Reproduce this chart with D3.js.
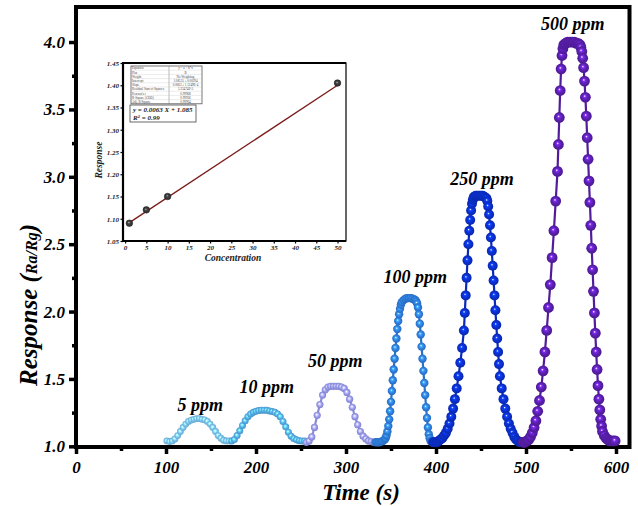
<!DOCTYPE html>
<html>
<head>
<meta charset="utf-8">
<script src="https://cdn.jsdelivr.net/npm/d3@7"></script>
<style>
  body { margin: 0; background: #fff; }
  svg { display: block; }
  text { font-family: "Liberation Serif", "DejaVu Serif", serif; font-weight: bold; font-style: italic; }
</style>
</head>
<body>
<svg id="chart" width="638" height="506"></svg>
<script>
// ---- Sensor response transients (time in s, response Ra/Rg) ----
const t5  = [101,104,107,110,113,116,119,122,125,128,131,134,137,140,143,146,149,152,155,158,161,164,167,170];
const v5  = [1.04,1.035,1.04,1.055,1.08,1.11,1.14,1.165,1.185,1.195,1.2,1.205,1.205,1.2,1.197,1.185,1.165,1.14,1.11,1.08,1.06,1.045,1.04,1.04];

const t10 = [173,176,179,182,185,188,191,194,197,200,203,206,209,212,215,218,221,224,227,230,233,236,239,242,245,248,251,254];
const v10 = [1.04,1.05,1.08,1.115,1.155,1.19,1.22,1.24,1.252,1.26,1.265,1.268,1.268,1.267,1.263,1.258,1.252,1.24,1.22,1.185,1.145,1.105,1.075,1.058,1.048,1.042,1.04,1.04];

const t50 = [256,259,262,265,268,271,274,277,280,283,286,289,292,295,298,301,304,307,310,313,316,319,322,325,328,331];
const v50 = [1.03,1.04,1.07,1.14,1.23,1.31,1.38,1.42,1.44,1.445,1.445,1.445,1.445,1.44,1.43,1.4,1.35,1.29,1.22,1.16,1.11,1.075,1.055,1.04,1.035,1.03];

const t100 = [333,335,337,339,341,343,344,345,346,347,348,349,350,351,352,353,354,355,356,357,358,359,360,361,362,364,366,368,370,372,374,376,377,378,379,380,381,382,383,384,385,386,387,388,389,390,391,392,393,394,395,396];
const v100 = [1.03,1.03,1.03,1.035,1.04,1.05,1.06,1.08,1.11,1.15,1.2,1.26,1.33,1.41,1.49,1.57,1.65,1.73,1.8,1.87,1.93,1.98,2.02,2.05,2.07,2.085,2.095,2.1,2.1,2.1,2.095,2.09,2.085,2.075,2.06,2.03,1.98,1.91,1.83,1.74,1.65,1.56,1.47,1.38,1.29,1.21,1.14,1.09,1.06,1.04,1.035,1.03];

const t250 = [397,399,401,403,405,407,409,411,413,415,417,419,421,423,425,427,429,431,432,433,434,435,436,437,438,439,440,441,442,444,446,448,450,452,454,456,457,458,459,460,461,462,463,464,465,466,467,468,469,470,471,473,475,477,479,481,483,485,487,489,491,493,495];
const v250 = [1.03,1.03,1.03,1.04,1.05,1.06,1.08,1.1,1.13,1.17,1.22,1.28,1.35,1.43,1.52,1.62,1.73,1.86,1.99,2.12,2.25,2.38,2.5,2.6,2.68,2.75,2.8,2.83,2.85,2.86,2.86,2.86,2.86,2.86,2.85,2.84,2.82,2.78,2.72,2.64,2.55,2.45,2.34,2.23,2.12,2.01,1.9,1.8,1.7,1.61,1.52,1.43,1.35,1.28,1.22,1.17,1.13,1.1,1.07,1.05,1.04,1.03,1.03];

const t500 = [497,499,501,503,505,507,509,511,513,515,517,519,521,523,525,527,529,531,533,535,536,537,538,539,540,541,542,544,546,548,550,552,554,556,558,560,561,562,563,564,565,566,567,568,569,570,571,572,573,574,575,576,577,578,579,580,581,582,583,584,585,587,589,591,593,595,597,599];
const v500 = [1.03,1.03,1.04,1.05,1.07,1.1,1.14,1.19,1.26,1.34,1.44,1.56,1.7,1.86,2.03,2.2,2.4,2.6,2.82,3.04,3.24,3.44,3.64,3.8,3.9,3.95,3.98,3.99,4.0,4.0,4.0,4.0,4.0,3.99,3.99,3.98,3.96,3.93,3.88,3.81,3.71,3.59,3.45,3.29,3.13,2.97,2.81,2.64,2.47,2.31,2.15,1.99,1.84,1.7,1.57,1.45,1.35,1.27,1.2,1.15,1.11,1.08,1.06,1.05,1.04,1.04,1.04,1.04];

const seriesNames  = ["5 ppm", "10 ppm", "50 ppm", "100 ppm", "250 ppm", "500 ppm"];
const seriesTimes  = [t5, t10, t50, t100, t250, t500];
const seriesValues = [v5, v10, v50, v100, v250, v500];
const seriesColors = ["#7cc6f2", "#56b0ea", "#9b9cf0", "#2f7fe0", "#0b2fce", "#5a1fae"];
const seriesRadius = [3.4, 3.5, 3.6, 4.2, 5.0, 5.4];

// label anchors (time, response)
const labelT = [138, 212, 288, 377, 451, 552];
const labelV = [1.262, 1.396, 1.588, 2.212, 2.939, 4.088];

const xTicks = [0, 100, 200, 300, 400, 500, 600];
const xMinor = [50, 150, 250, 350, 450, 550];
const yTicks = [1.0, 1.5, 2.0, 2.5, 3.0, 3.5, 4.0];
const yMinor = [1.25, 1.75, 2.25, 2.75, 3.25, 3.75];

// ---- Linear calibration (inset) ----
const concentration = [1, 5, 10, 50];
const calResponse   = [1.09, 1.12, 1.15, 1.405];
const fitSlope = 0.0063, fitIntercept = 1.085;
const insetXTicks = [0, 5, 10, 15, 20, 25, 30, 35, 40, 45, 50];
const insetYTicks = [1.05, 1.10, 1.15, 1.20, 1.25, 1.30, 1.35, 1.40, 1.45];
const fitTableKeys = ["Equation", "Plot", "Weight", "Intercept", "Slope", "Residual Sum of Squares", "Pearson's r", "R-Square (COD)", "Adj. R-Square"];
const fitTableVals = ["y = a + b*x", "B", "No Weighting", "1.08535 \u00b1 0.00294", "0.0063 \u00b1 1.1249E-4", "5.23474E-5", "0.99968", "0.99936", "0.99904"];

const svg = d3.select("#chart");
const defs = svg.append("defs");

const x = d3.scaleLinear().domain([0, 615]).range([76, 629.5]);
const y = d3.scaleLinear().domain([0.995, 4.26]).range([447, 7]);

// sphere shading for each series
function sphereGradient(id, color) {
  const c = d3.color(color);
  const g = defs.append("radialGradient").attr("id", id)
    .attr("cx", "50%").attr("cy", "50%").attr("r", "55%")
    .attr("fx", "42%").attr("fy", "38%");
  g.append("stop").attr("offset", "0%").attr("stop-color", "#ffffff");
  g.append("stop").attr("offset", "22%").attr("stop-color", c.brighter(0.9).formatHex());
  g.append("stop").attr("offset", "55%").attr("stop-color", color);
  g.append("stop").attr("offset", "100%").attr("stop-color", c.darker(0.6).formatHex());
}
seriesColors.forEach((c, i) => sphereGradient("sph" + i, c));
sphereGradient("sphInset", "#3a3a3a");

// ---- axes ----
const axisFont = "17px";
svg.append("g").attr("transform", `translate(0,${y.range()[0]})`)
  .call(d3.axisBottom(x).tickValues(xTicks).tickSize(7).tickPadding(7).tickFormat(d3.format("d")));
svg.append("g").attr("transform", `translate(0,${y.range()[0]})`)
  .call(d3.axisBottom(x).tickValues(xMinor).tickSize(4).tickFormat(""));
svg.append("g").attr("transform", `translate(${x.range()[0]},0)`)
  .call(d3.axisLeft(y).tickValues(yTicks).tickSize(7).tickPadding(4).tickFormat(d3.format(".1f")));
svg.append("g").attr("transform", `translate(${x.range()[0]},0)`)
  .call(d3.axisLeft(y).tickValues(yMinor).tickSize(4).tickFormat(""));
svg.selectAll(".domain").remove();
svg.selectAll(".tick line").attr("stroke", "#000").attr("stroke-width", 3.5);
svg.selectAll(".tick text").attr("fill", "#000").style("font-size", axisFont)
  .style("font-family", "'Liberation Serif', serif").style("font-weight", "bold").style("font-style", "italic");

// frame
svg.append("rect")
  .attr("x", x.range()[0]).attr("y", y.range()[1])
  .attr("width", x.range()[1] - x.range()[0]).attr("height", y.range()[0] - y.range()[1])
  .attr("fill", "none").attr("stroke", "#000").attr("stroke-width", 4);

// axis titles
svg.append("text").attr("x", 361).attr("y", 500).attr("text-anchor", "middle")
  .style("font-size", "23px").text("Time (s)");
const yt = svg.append("text").attr("transform", "translate(37,305) rotate(-90)")
  .attr("text-anchor", "middle").style("font-size", "25px");
yt.append("tspan").text("Response (");
yt.append("tspan").style("font-size", "16px").text("Ra/Rg");
yt.append("tspan").text(")");

// ---- transients ----
const line = d3.line().x(d => x(d[0])).y(d => y(d[1]));
seriesNames.forEach((name, i) => {
  const pts = seriesTimes[i].map((t, k) => [t, seriesValues[i][k]]);
  const g = svg.append("g");
  g.append("path").datum(pts).attr("d", line)
    .attr("fill", "none").attr("stroke", d3.color(seriesColors[i]).darker(0.3)).attr("stroke-width", 2.2);
  g.selectAll("circle").data(pts).join("circle")
    .attr("cx", d => x(d[0])).attr("cy", d => y(d[1])).attr("r", seriesRadius[i])
    .attr("fill", `url(#sph${i})`);
  svg.append("text").attr("x", x(labelT[i])).attr("y", y(labelV[i]))
    .attr("text-anchor", "middle").style("font-size", "18px").text(name);
});

// ---- inset: calibration curve ----
const ix = d3.scaleLinear().domain([-0.5, 52]).range([123, 346]);
const iy = d3.scaleLinear().domain([1.05, 1.45]).range([241, 63]);
const inset = svg.append("g");
inset.append("rect").attr("x", 123).attr("y", 63).attr("width", 223).attr("height", 178)
  .attr("fill", "#fff").attr("stroke", "#000").attr("stroke-width", 1.2);
inset.append("line").attr("x1", 123).attr("x2", 123).attr("y1", 62).attr("y2", 242).attr("stroke", "#000").attr("stroke-width", 2.2);
inset.append("line").attr("x1", 122).attr("x2", 346).attr("y1", 241).attr("y2", 241).attr("stroke", "#000").attr("stroke-width", 2.2);
inset.append("line").attr("x1", 122).attr("x2", 346).attr("y1", 63).attr("y2", 63).attr("stroke", "#000").attr("stroke-width", 1.8);

inset.append("g").attr("transform", "translate(0,241)")
  .call(d3.axisBottom(ix).tickValues(insetXTicks).tickSize(2.5).tickPadding(2).tickFormat(d3.format("d")));
inset.append("g").attr("transform", "translate(123,0)")
  .call(d3.axisLeft(iy).tickValues(insetYTicks).tickSize(2.5).tickPadding(1.5).tickFormat(d3.format(".2f")));
inset.selectAll(".domain").remove();
inset.selectAll(".tick line").attr("stroke", "#000").attr("stroke-width", 1.2);
inset.selectAll(".tick text").attr("fill", "#222").style("font-size", "7px")
  .style("font-family", "'Liberation Serif', serif").style("font-weight", "bold").style("font-style", "italic");

inset.append("text").attr("x", 233).attr("y", 261).attr("text-anchor", "middle")
  .style("font-size", "9.5px").attr("fill", "#222").text("Concentration");
inset.append("text").attr("transform", "translate(102,160) rotate(-90)").attr("text-anchor", "middle")
  .style("font-size", "9.5px").attr("fill", "#222").text("Response");

// fit line
inset.append("line")
  .attr("x1", ix(1)).attr("y1", iy(fitIntercept + fitSlope * 1))
  .attr("x2", ix(50)).attr("y2", iy(fitIntercept + fitSlope * 50))
  .attr("stroke", "#7a1a1a").attr("stroke-width", 1.3);
inset.selectAll("circle.cal").data(concentration).join("circle").attr("class", "cal")
  .attr("cx", (d) => ix(d)).attr("cy", (d, i) => iy(calResponse[i])).attr("r", 3.3)
  .attr("fill", "url(#sphInset)").attr("stroke", "#111").attr("stroke-width", 0.5);

// fit statistics table
const tb = inset.append("g");
const rowH = 4.2, tx0 = 131, ty0 = 66, colX = 169, tw = 71;
tb.append("rect").attr("x", tx0).attr("y", ty0).attr("width", tw).attr("height", rowH * fitTableKeys.length)
  .attr("fill", "#fff").attr("stroke", "#555").attr("stroke-width", 0.8);
tb.append("line").attr("x1", colX).attr("x2", colX).attr("y1", ty0).attr("y2", ty0 + rowH * fitTableKeys.length)
  .attr("stroke", "#777").attr("stroke-width", 0.5);
fitTableKeys.forEach((k, i) => {
  if (i > 0) tb.append("line").attr("x1", tx0).attr("x2", tx0 + tw).attr("y1", ty0 + rowH * i).attr("y2", ty0 + rowH * i)
    .attr("stroke", "#bbb").attr("stroke-width", 0.3);
  tb.append("text").attr("x", tx0 + 1).attr("y", ty0 + rowH * i + 3.3).style("font-size", "3.2px")
    .style("font-style", "normal").style("font-weight", "normal").attr("fill", "#444").text(k);
  tb.append("text").attr("x", colX + 16.5).attr("y", ty0 + rowH * i + 3.3).attr("text-anchor", "middle")
    .style("font-size", "3.2px").style("font-style", "normal").style("font-weight", "normal").attr("fill", "#444").text(fitTableVals[i]);
});
// fit equation box
tb.append("rect").attr("x", 130).attr("y", 105).attr("width", 66).attr("height", 17)
  .attr("fill", "#fff").attr("stroke", "#444").attr("stroke-width", 0.8);
tb.append("text").attr("x", 133).attr("y", 112).style("font-size", "7px").attr("fill", "#222")
  .text(`y = ${fitSlope.toFixed(4)} X + ${fitIntercept.toFixed(3)}`);
const r2 = tb.append("text").attr("x", 133).attr("y", 120).style("font-size", "7px").attr("fill", "#222");
r2.append("tspan").text("R");
r2.append("tspan").attr("dy", -2.5).style("font-size", "4.5px").text("2");
r2.append("tspan").attr("dy", 2.5).text(" = 0.99");
</script>
</body>
</html>
